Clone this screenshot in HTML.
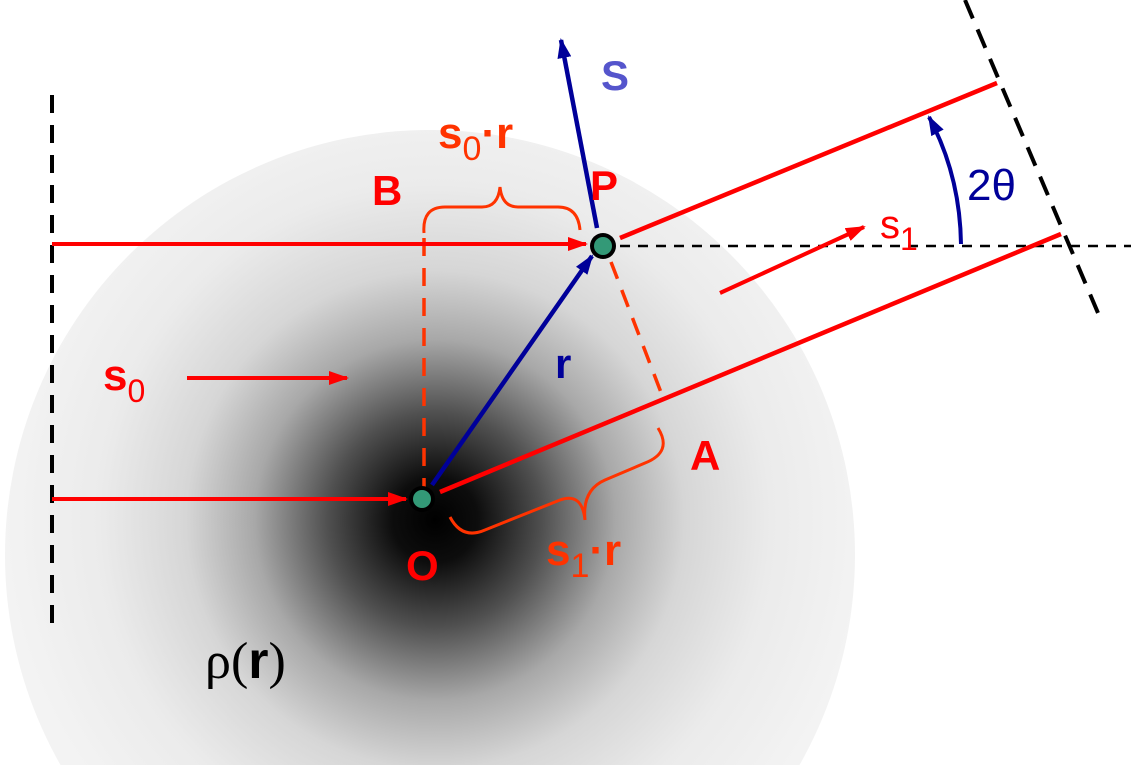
<!DOCTYPE html>
<html><head><meta charset="utf-8"><style>
html,body{margin:0;padding:0;background:#fff;overflow:hidden;width:1131px;height:765px;}
svg{display:block;}
text{font-family:"Liberation Sans",Arial,sans-serif;}
</style></head><body>
<svg width="1131" height="765" viewBox="0 0 1131 765" xmlns="http://www.w3.org/2000/svg">
<defs>
<radialGradient id="g" cx="435" cy="520" r="430" gradientUnits="userSpaceOnUse">
<stop offset="0" stop-color="#000"/>
<stop offset="0.1" stop-color="#0d0d0d"/>
<stop offset="0.25" stop-color="#505050"/>
<stop offset="0.42" stop-color="#a8a8a8"/>
<stop offset="0.58" stop-color="#d6d6d6"/>
<stop offset="0.78" stop-color="#ebebeb"/>
<stop offset="1" stop-color="#f3f3f3"/>
</radialGradient>
<marker id="ar" markerWidth="20" markerHeight="14" refX="18" refY="7" orient="auto" markerUnits="userSpaceOnUse" viewBox="0 0 20 14"><path d="M0,0 L20,7 L0,14 Z" fill="#ff0000"/></marker>
<marker id="ab" markerWidth="20" markerHeight="14" refX="18" refY="7" orient="auto" markerUnits="userSpaceOnUse" viewBox="0 0 20 14"><path d="M0,0 L20,7 L0,14 Z" fill="#000099"/></marker>
</defs>
<circle cx="430" cy="555" r="425" fill="url(#g)"/>
<line x1="52" y1="95" x2="52" y2="635" stroke="#000" stroke-width="4" stroke-dasharray="18,12"/>
<line x1="620" y1="246" x2="1131" y2="246" stroke="#000" stroke-width="2.5" stroke-dasharray="10,8"/>
<line x1="965" y1="0" x2="1101" y2="320" stroke="#000" stroke-width="4" stroke-dasharray="20,12"/>
<line x1="424" y1="238" x2="424" y2="488" stroke="#ff3300" stroke-width="3.5" stroke-dasharray="18,12"/>
<line x1="611" y1="262" x2="662" y2="395" stroke="#ff3300" stroke-width="3.5" stroke-dasharray="18,12"/>
<line x1="52" y1="244" x2="586" y2="244" stroke="#ff0000" stroke-width="4" marker-end="url(#ar)"/>
<line x1="52" y1="499" x2="406" y2="499" stroke="#ff0000" stroke-width="4" marker-end="url(#ar)"/>
<line x1="187" y1="378" x2="347" y2="378" stroke="#ff0000" stroke-width="4" marker-end="url(#ar)"/>
<line x1="620" y1="238" x2="997" y2="83" stroke="#ff0000" stroke-width="4.5"/>
<line x1="440" y1="492" x2="1061" y2="234" stroke="#ff0000" stroke-width="4.5"/>
<line x1="720" y1="293" x2="864" y2="227" stroke="#ff0000" stroke-width="4" marker-end="url(#ar)"/>
<path d="M424,233 Q422,207 445,207 L482,207 Q498,207 500,187 Q502,207 518,207 L558,207 Q578,207 580,230" fill="none" stroke="#ff3300" stroke-width="3"/>
<path d="M450,517 Q462,540 485,530 L560,500 Q582,492 585,520 Q582,490 605,480 L645,463 Q673,452 658,428" fill="none" stroke="#ff3300" stroke-width="3"/>
<line x1="597" y1="228" x2="561" y2="40" stroke="#000099" stroke-width="4.5" marker-end="url(#ab)"/>
<line x1="432" y1="485" x2="592" y2="256" stroke="#000099" stroke-width="4.5" marker-end="url(#ab)"/>
<path d="M961,244 Q960,175 929,117" fill="none" stroke="#000099" stroke-width="4" marker-end="url(#ab)"/>
<circle cx="603" cy="246" r="13" fill="#000"/><circle cx="603" cy="246" r="9" fill="#339977"/>
<circle cx="422" cy="499" r="13" fill="#000"/><circle cx="422" cy="499" r="9" fill="#339977"/>
<text x="601" y="90" font-size="42" font-weight="bold" fill="#5555cc">S</text>
<text x="438" y="148" font-size="44" font-weight="bold" fill="#ff3300">s<tspan font-size="34" font-weight="normal" dy="12">0</tspan><tspan dy="-12">·r</tspan></text>
<text x="372" y="205" font-size="42" font-weight="bold" fill="#ff0000">B</text>
<text x="590" y="200" font-size="42" font-weight="bold" fill="#ff0000">P</text>
<text x="880" y="238" font-size="40" fill="#ff0000">s<tspan font-size="32" dy="12">1</tspan></text>
<text x="967" y="200" font-size="44" fill="#000099">2θ</text>
<text x="103" y="390" font-size="44" font-weight="bold" fill="#ff0000">s<tspan font-size="32" font-weight="normal" dy="12">0</tspan></text>
<text x="555" y="378" font-size="42" font-weight="bold" fill="#000099">r</text>
<text x="690" y="470" font-size="42" font-weight="bold" fill="#ff0000">A</text>
<text x="406" y="580" font-size="42" font-weight="bold" fill="#ff0000">O</text>
<text x="546" y="565" font-size="44" font-weight="bold" fill="#ff3300">s<tspan font-size="34" font-weight="normal" dy="12">1</tspan><tspan dy="-12">·r</tspan></text>
<text x="205" y="678" font-size="52" fill="#000" style="font-family:'Liberation Serif',serif">ρ(<tspan font-weight="bold" style="font-family:'Liberation Sans',sans-serif">r</tspan>)</text>
</svg>
</body></html>
